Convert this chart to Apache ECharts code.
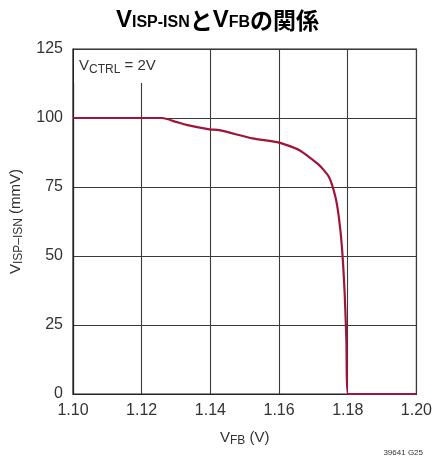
<!DOCTYPE html>
<html><head><meta charset="utf-8">
<script src="https://cdn.jsdelivr.net/npm/echarts@6/dist/echarts.min.js"></script>
<style>html,body{margin:0;padding:0;background:#fff}#c{width:435px;height:463px}</style>
</head><body><div id="c"></div>
<script>
const vfb = [1.100, 1.110, 1.120, 1.126, 1.130, 1.133, 1.1397, 1.1426, 1.1523, 1.160, 1.1658, 1.1716, 1.1745, 1.1764, 1.1774, 1.1783, 1.1791, 1.1796, 1.1801, 1.190, 1.200];
const visp = [100, 100, 100, 100, 98.6, 97.5, 95.9, 95.6, 92.6, 91.1, 88.4, 83.0, 78.7, 71.5, 64.2, 53.4, 36.6, 19.6, 0, 0, 0];
const xTicks = [1.10, 1.12, 1.14, 1.16, 1.18, 1.20];
const yTicks = [0, 25, 50, 75, 100, 125];

const FONT = "'Liberation Sans Narrow','Liberation Sans',Arial,sans-serif";
const chart = echarts.init(document.getElementById('c'), null, {renderer: 'canvas'});
chart.setOption({
  animation: false,
  backgroundColor: '#fff',
  title: {
    left: 'center', top: 3,
    text: '{v|V}{s|ISP-ISN}{j|と}{v|V}{s|FB}{j|の関係}',
    textStyle: {
      rich: {
        v: {fontSize: 24, fontWeight: 'bold', fontFamily: "'Liberation Sans',Arial,sans-serif", color: '#000', verticalAlign: 'bottom'},
        s: {fontSize: 16, fontWeight: 'bold', fontFamily: "'Liberation Sans',Arial,sans-serif", color: '#000', verticalAlign: 'bottom', padding: [0,0,1,0]},
        j: {fontSize: 23, fontWeight: 'bold', fontFamily: "'Noto Sans CJK JP',sans-serif", color: '#000', verticalAlign: 'bottom'}
      }
    }
  },
  grid: {left: 73, right: 17, top: 49, bottom: 69, show: true, borderColor: '#222', borderWidth: 1.2},
  xAxis: {
    type: 'value', min: 1.10, max: 1.20, interval: 0.02,
    axisLine: {show: true, lineStyle: {color: '#222', width: 1.2}},
    axisTick: {show: false},
    splitLine: {show: true, lineStyle: {color: '#3a3a3a', width: 1.1}},
    axisLabel: {margin: 9, fontSize: 16, fontFamily: FONT, color: '#333', formatter: v => v.toFixed(2)},
    name: '{t|V}{s|FB}{t| (V)}', nameLocation: 'middle', nameGap: 36,
    nameTextStyle: {rich: {
      t: {fontSize: 15, fontFamily: FONT, color: '#333'},
      s: {fontSize: 12, fontFamily: FONT, color: '#333', verticalAlign: 'bottom', padding: [0,0,-2,0]}
    }}
  },
  yAxis: {
    type: 'value', min: 0, max: 125, interval: 25,
    axisLine: {show: true, lineStyle: {color: '#222', width: 1.2}},
    axisTick: {show: false},
    splitLine: {show: true, lineStyle: {color: '#3a3a3a', width: 1.1}},
    axisLabel: {margin: 10, fontSize: 16, fontFamily: FONT, color: '#333'},
    name: '{t|V}{s|ISP–ISN}{t| (mmV)}', nameLocation: 'middle', nameGap: 50, nameRotate: 90,
    nameTextStyle: {rich: {
      t: {fontSize: 15, fontFamily: FONT, color: '#333'},
      s: {fontSize: 12, fontFamily: FONT, color: '#333', verticalAlign: 'bottom', padding: [0,0,-2,0]}
    }}
  },
  graphic: [
    {type: 'rect', z: 100, shape: {x: 74, y: 50, width: 92, height: 33}, style: {fill: '#fff'}},
    {type: 'text', z: 101, left: 79, top: 58, style: {
      text: '{t|V}{s|CTRL}{t| = 2V}',
      rich: {
        t: {fontSize: 15, fontFamily: FONT, fill: '#333'},
        s: {fontSize: 12, fontFamily: FONT, fill: '#333', verticalAlign: 'bottom', padding: [0,0,-3,0]}
      }
    }},
    {type: 'text', z: 101, right: 12, top: 449, style: {text: '39641 G25', fontSize: 8, fontFamily: FONT, fill: '#333'}}
  ],
  series: [{
    type: 'line', data: vfb.map((x, i) => [x, visp[i]]), showSymbol: false, smooth: 0.2,
    lineStyle: {color: '#9e1539', width: 2.2}, z: 5
  }]
});
</script></body></html>
